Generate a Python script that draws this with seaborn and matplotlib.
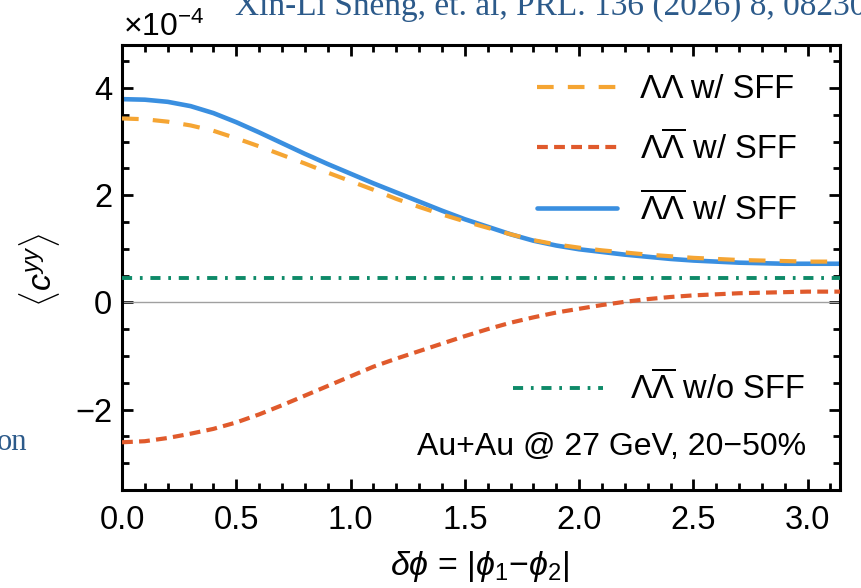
import numpy as np
import pandas as pd
import matplotlib
matplotlib.use("Agg")
import matplotlib.pyplot as plt
import matplotlib.ticker as mticker
from matplotlib.lines import Line2D
import seaborn as sns

# ---------------- data (values in units of 1e-4) ----------------
SCALE = 1e-4
x_pts = [0.0, 0.1, 0.2, 0.3, 0.4, 0.5, 0.6, 0.7, 0.8, 0.9, 1.0, 1.1, 1.2, 1.3,
         1.4, 1.5, 1.6, 1.7, 1.8, 1.9, 2.0, 2.1, 2.2, 2.3, 2.4, 2.5, 2.6, 2.7,
         2.8, 2.9, 3.0, 3.1416]
ll_sff = [3.43, 3.415, 3.37, 3.30, 3.20, 3.06, 2.91, 2.75, 2.59, 2.42, 2.26, 2.10,
          1.93, 1.78, 1.64, 1.51, 1.39, 1.27, 1.16, 1.08, 1.02, 0.97, 0.93, 0.89,
          0.86, 0.83, 0.81, 0.79, 0.78, 0.77, 0.76, 0.76]
llbar_sff = [-2.61, -2.59, -2.53, -2.45, -2.36, -2.24, -2.09, -1.92, -1.74, -1.56,
             -1.38, -1.20, -1.05, -0.91, -0.77, -0.63, -0.50, -0.38, -0.28, -0.19,
             -0.12, -0.05, 0.01, 0.06, 0.10, 0.13, 0.15, 0.17, 0.18, 0.19, 0.20, 0.20]
lbarlbar_sff = [3.79, 3.78, 3.74, 3.66, 3.53, 3.36, 3.17, 2.97, 2.77, 2.58, 2.40,
                2.22, 2.05, 1.88, 1.71, 1.55, 1.41, 1.27, 1.15, 1.06, 0.99, 0.94,
                0.89, 0.85, 0.81, 0.78, 0.76, 0.74, 0.73, 0.72, 0.72, 0.72]
x_flat = [0.0, 3.1416]
llbar_nosff = [0.45, 0.45]

labels = [r"ΛΛ w/ SFF",
          r"$\mathregular{\Lambda\overline{\Lambda}}$ w/ SFF",
          r"$\mathregular{\overline{\Lambda}\overline{\Lambda}}$ w/ SFF",
          r"$\mathregular{\Lambda\overline{\Lambda}}$ w/o SFF"]
colors = ["#F5A533", "#E05A2C", "#3A8FE0", "#0E8A68"]
annotation = "Au+Au @ 27 GeV, 20−50%"
xlabel = r"$\delta\phi$ = |$\phi_1$−$\phi_2$|"
ylabel = r"$\langle c^{yy}\rangle$"
ref_text = "Xin-Li Sheng, et. al, PRL. 136 (2026) 8, 082301"

# ---------------- style ----------------
sns.set_theme(style="ticks")
plt.rcParams["font.family"] = ["Liberation Sans", "DejaVu Sans"]
plt.rcParams["mathtext.fontset"] = "custom"
plt.rcParams["mathtext.rm"] = "Liberation Sans"
plt.rcParams["mathtext.it"] = "Liberation Sans:italic"
plt.rcParams["mathtext.bf"] = "Liberation Sans:bold"
plt.rcParams["axes.unicode_minus"] = True
plt.rcParams["text.color"] = "black"
plt.rcParams["axes.labelcolor"] = "black"
plt.rcParams["xtick.color"] = "black"
plt.rcParams["ytick.color"] = "black"

FS = 23.5
fig = plt.figure(figsize=(8.61, 5.88), dpi=100)
ax = fig.add_axes([122 / 861, 1 - 490 / 588, 718 / 861, 445 / 588])

def frame(x, y):
    return pd.DataFrame({"x": x, "y": np.asarray(y) * SCALE})

ax.axhline(0, color="#a0a0a0", lw=1.0, zorder=1)

sns.lineplot(data=frame(x_pts, lbarlbar_sff), x="x", y="y", ax=ax, color=colors[2],
             lw=3.3, zorder=2)
sns.lineplot(data=frame(x_pts, ll_sff), x="x", y="y", ax=ax, color=colors[0],
             lw=3.0, zorder=3)
ax.lines[-1].set_dashes([4.0, 3.4])
sns.lineplot(data=frame(x_pts, llbar_sff), x="x", y="y", ax=ax, color=colors[1],
             lw=3.0, zorder=3)
ax.lines[-1].set_dashes([2.6, 1.5])
sns.lineplot(data=frame(x_flat, llbar_nosff), x="x", y="y", ax=ax, color=colors[3],
             lw=2.8, zorder=3)
ax.lines[-1].set_dashes([2.6, 2.0, 0.7, 2.0])

ax.set_xlim(0, np.pi)
ax.set_ylim(-3.5 * SCALE, 4.8 * SCALE)

ax.xaxis.set_major_locator(mticker.MultipleLocator(0.5))
ax.xaxis.set_minor_locator(mticker.MultipleLocator(0.1))
ax.xaxis.set_major_formatter(mticker.FormatStrFormatter("%.1f"))
ax.yaxis.set_major_locator(mticker.MultipleLocator(2 * SCALE))
ax.yaxis.set_minor_locator(mticker.MultipleLocator(0.5 * SCALE))
ax.yaxis.set_major_formatter(mticker.FuncFormatter(
    lambda v, p: f"{v / SCALE:.0f}".replace("-", "−")))

for s in ax.spines.values():
    s.set_linewidth(2.2)
    s.set_color("black")
ax.tick_params(which="both", direction="in", top=True, right=True,
               color="black", width=2.0)
ax.tick_params(which="major", length=8, labelsize=FS, pad=7)
ax.tick_params(axis="x", which="major", pad=11)
ax.tick_params(which="minor", length=5)

ax.set_xlabel(xlabel, fontsize=FS + 1, va="center")
ax.set_ylabel(ylabel, fontsize=FS + 1, va="center")
ax.xaxis.set_label_coords((480 - 122) / 718, -(566 - 490) / 445)
ax.yaxis.set_label_coords(-(122 - 40) / 718, (490 - 270) / 445)

# offset text
fig.text(123 / 861, 1 - 27 / 588, r"×10$^{\mathregular{−4}}$", fontsize=23,
         ha="left", va="center")

# legends
h_top = [Line2D([], [], color=colors[0], lw=3.0, dashes=[4.0, 3.4]),
         Line2D([], [], color=colors[1], lw=3.0, dashes=[2.6, 1.5]),
         Line2D([], [], color=colors[2], lw=3.3)]
leg1 = ax.legend(h_top, labels[:3], loc="upper left",
                 bbox_to_anchor=((537 - 122) / 718, (490 - 74) / 445),
                 frameon=False, fontsize=FS, handlelength=2.45, handletextpad=0.7,
                 labelspacing=0.79, borderpad=0, borderaxespad=0)
ax.add_artist(leg1)
h_bot = [Line2D([], [], color=colors[3], lw=2.8, dashes=[2.6, 2.0, 0.7, 2.0])]
ax.legend(h_bot, labels[3:], loc="upper left",
          bbox_to_anchor=((513 - 122) / 718, (490 - 371) / 445),
          frameon=False, fontsize=FS, handlelength=2.75, handletextpad=0.85,
          borderpad=0, borderaxespad=0)

ax.text((806 - 122) / 718, (490 - 447) / 445, annotation, transform=ax.transAxes,
        fontsize=23, ha="right", va="center")

# cropped slide text visible in the screenshot
fig.text(235 / 861, 1 - 15 / 588, ref_text, fontsize=24, family="Liberation Serif",
         color="#2C5A8A", ha="left", va="baseline")
fig.text(27 / 861, 1 - 450 / 588, "on", fontsize=22, family="Liberation Serif",
         color="#2C5A8A", ha="right", va="baseline")

fig.savefig("out.png", dpi=100)
